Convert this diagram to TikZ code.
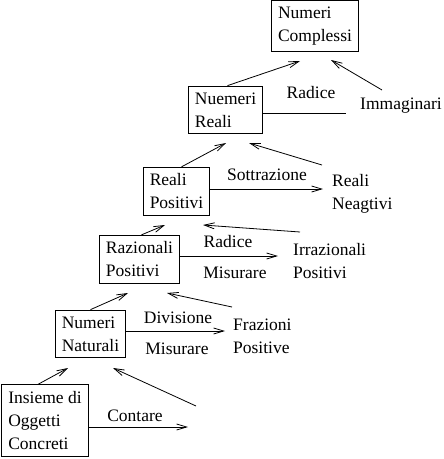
\documentclass[tikz,border=0pt]{standalone}
\usepackage{fontspec}
\setmainfont{Liberation Serif}
\usetikzlibrary{arrows.meta}
\begin{document}
\begin{tikzpicture}[x=1pt, y=-1pt,
        box/.style={draw, line width=1pt, align=left, inner sep=6.5pt, font=\fontsize{17.5}{23}\selectfont},
        lbl/.style={inner sep=0pt, align=left, font=\fontsize{17.5}{23}\selectfont},
        arrow/.style={-{Straight Barb[length=10pt, width=6pt]}, line width=0.8pt}
    ]
        \useasboundingbox (0,0) rectangle (444,459);

        \node[box] (kompl) at (315,26) {Numeri\\Complessi};
        \node[box] (reali) at (225.5,110) {Nuemeri\\Reali};
        \node[box] (realpos) at (176.5,191.5) {Reali\\Positivi};
        \node[box] (raz) at (139.5,259.5) {Razionali\\Positivi};
        \node[box] (nat) at (90.5,334) {Numeri\\Naturali};
        \node[box] (ins) at (45,420.5) {Insieme di\\Oggetti\\Concreti};

        \node[lbl, anchor=west] (imm) at (360,106) {Immaginari};
        \node[lbl, anchor=west] (realneg) at (332,194) {Reali\\Neagtivi};
        \node[lbl, anchor=west] (irr) at (293,261) {Irrazionali\\Positivi};
        \node[lbl, anchor=west] (fraz) at (233,336) {Frazioni\\Positive};

        \node[lbl] (radice1) at (311,93) {Radice};
        \node[lbl] (sottr) at (267,175) {Sottrazione};
        \node[lbl] (radice2) at (228,242) {Radice};
        \node[lbl] (mis1) at (235,273) {Misurare};
        \node[lbl] (divis) at (178,318) {Divisione};
        \node[lbl] (mis2) at (177,349) {Misurare};
        \node[lbl] (cont) at (135,416) {Contare};

        \coordinate (k1) at (300,61);
        \coordinate (k2) at (331,60);
        \coordinate (k3) at (382,90);
        \coordinate (r1) at (346,113);
        \coordinate (r2) at (226,143);
        \coordinate (r3) at (249,143);
        \coordinate (r4) at (322,165);
        \coordinate (r5) at (323,189);
        \coordinate (p1) at (165,225);
        \coordinate (p2) at (203,225);
        \coordinate (p3) at (300,232);
        \coordinate (p4) at (278,256);
        \coordinate (n1) at (128,293);
        \coordinate (n2) at (167,293);
        \coordinate (n3) at (232,307);
        \coordinate (n4) at (225,331);
        \coordinate (i1) at (68,368);
        \coordinate (i2) at (113,368);
        \coordinate (i3) at (196,406);
        \coordinate (i4) at (188,427);

        \draw[arrow] ([xshift=2pt]reali.north) -- (k1);
        \draw[arrow] (k3) -- (k2);
        \draw[line width=0.8pt] (reali.east |- r1) -- (r1);

        \draw[arrow] ([xshift=5pt]realpos.north) -- (r2);
        \draw[arrow] (r4) -- (r3);
        \draw[arrow] (realpos.east |- r5) -- (r5);

        \draw[arrow] ([xshift=2pt]raz.north) -- (p1);
        \draw[arrow] (p3) -- (p2);
        \draw[arrow] (raz.east |- p4) -- (p4);

        \draw[arrow] (nat.north) -- (n1);
        \draw[arrow] (n3) -- (n2);
        \draw[arrow] (nat.east |- n4) -- (n4);

        \draw[arrow] ([xshift=-7pt]ins.north) -- (i1);
        \draw[arrow] (i3) -- (i2);
        \draw[arrow] (ins.east |- i4) -- (i4);
    \end{tikzpicture}
\end{document}
